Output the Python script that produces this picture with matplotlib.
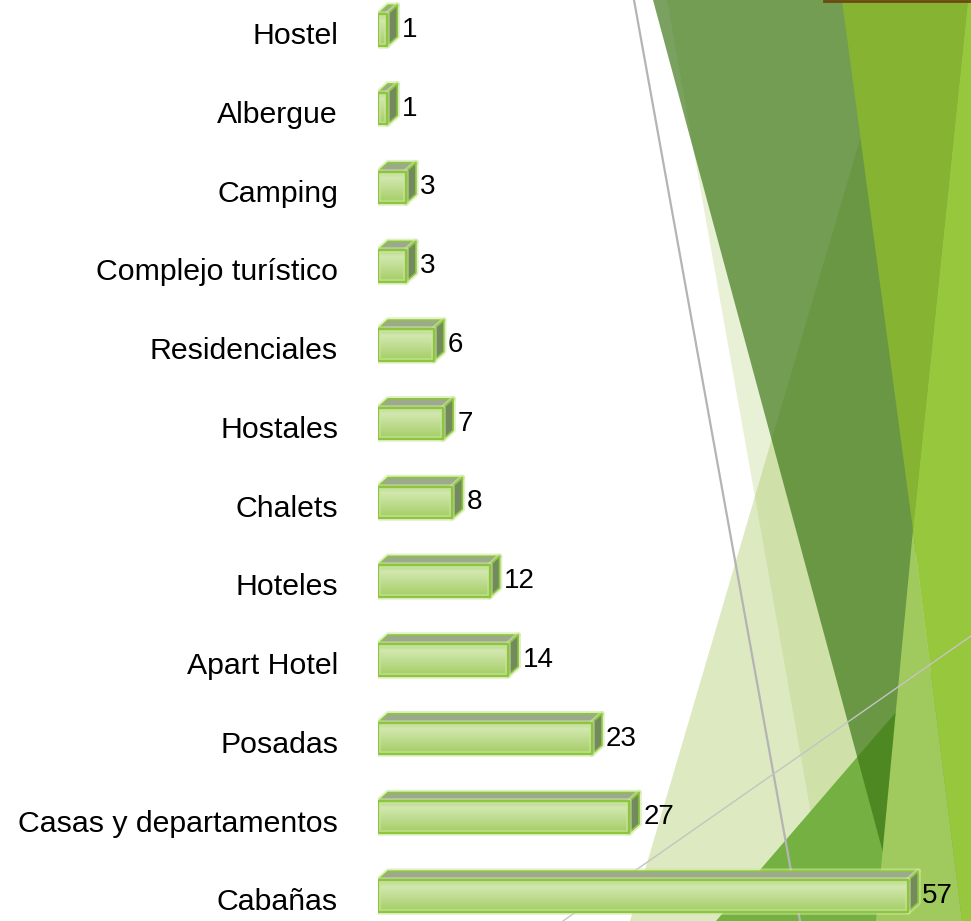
import numpy as np
import matplotlib
matplotlib.use("Agg")
import matplotlib.pyplot as plt
from matplotlib.patches import Polygon
import matplotlib.patheffects as pe
from matplotlib.colors import LinearSegmentedColormap

# data, bottom to top
categories = ["Cabañas", "Casas y departamentos", "Posadas", "Apart Hotel", "Hoteles",
              "Chalets", "Hostales", "Residenciales", "Complejo turístico", "Camping",
              "Albergue", "Hostel"]
values = [57, 27, 23, 14, 12, 8, 7, 6, 3, 3, 1, 1]

plt.rcParams['font.family'] = ['Liberation Sans', 'DejaVu Sans']

W, H = 971, 921
fig = plt.figure(figsize=(W / 100, H / 100), dpi=100)
fig.patch.set_facecolor('white')

# decorative background shapes (pixel coords)
bg = fig.add_axes([0, 0, 1, 1], zorder=0)
bg.set_xlim(0, W)
bg.set_ylim(H, 0)
bg.axis('off')

def shape(pts, color, alpha=1.0):
    bg.add_patch(Polygon(pts, closed=True, facecolor=color, edgecolor='none', alpha=alpha))

shape([(901, 0), (630, 921), (971, 921), (971, 0)], '#dde9c0')          # light triangle
shape([(667, 0), (830, 921), (971, 921), (971, 0)], '#aacc68', 0.27)    # pale strip
shape([(716, 921), (971, 625), (971, 921)], '#74b142')                  # green corner
shape([(653, 0), (971, 0), (885, 860)], '#3b7515', 0.68)                # muted dark
shape([(842, 0), (968, 0), (913, 530)], '#86b432')                      # olive wedge
shape([(913, 530), (962, 921), (876, 921)], '#a0c95e')                  # lower wedge
shape([(968, 0), (971, 0), (971, 921), (962, 921), (913, 530)], '#97c73d')
bg.plot([824, 971], [0.8, 0.8], color='#6b4a10', lw=2)
bg.plot([634, 800], [0, 921], color='#b4b4b4', lw=1.6)
bg.plot([563, 971], [921, 636], color='#c4c4c4', lw=1.0)

# main axes
px_per_unit = 9.3
left = 378
xmax = 63
ax = fig.add_axes([left / W, 0, xmax * px_per_unit / W, 1], zorder=1)
ax.patch.set_alpha(0)
ax.axis('off')
ylo, yhi = -0.318, 11.38
ax.set_xlim(0, xmax)
ax.set_ylim(ylo, yhi)

bar_h = 0.40
dx = 10 / px_per_unit
dy = 9 / (H / (yhi - ylo))
edge = '#8cc63f'
glow = [pe.Stroke(linewidth=4, foreground='#cfe79f', alpha=0.6, joinstyle='round'),
        pe.Normal()]

grad_cmap = LinearSegmentedColormap.from_list(
    'front', [(0, '#a2cd62'), (0.55, '#c4df98'), (0.8, '#d2e8b0'), (1, '#b6d784')])
grad = np.linspace(0, 1, 64).reshape(-1, 1)

for i, (cat, v) in enumerate(zip(categories, values)):
    y0 = i - bar_h / 2
    y1 = i + bar_h / 2
    # top face
    top = Polygon([(0, y1), (v, y1), (v + dx, y1 + dy), (dx, y1 + dy)], closed=True,
                  facecolor='#9ca98b', edgecolor=edge, lw=1.2, zorder=3, joinstyle='round')
    top.set_path_effects(glow)
    ax.add_patch(top)
    # side face
    side = Polygon([(v, y0), (v + dx, y0 + dy), (v + dx, y1 + dy), (v, y1)], closed=True,
                   facecolor='#738b5c', edgecolor=edge, lw=1.2, zorder=3, joinstyle='round')
    side.set_path_effects(glow)
    ax.add_patch(side)
    # front face with gradient
    front = ax.barh(i, v, height=bar_h, color='none', edgecolor=edge, lw=1.6, zorder=5)[0]
    front.set_joinstyle('round')
    front.set_path_effects(glow)
    img = ax.imshow(grad, cmap=grad_cmap, extent=(0, v, y0, y1), origin='lower',
                    aspect='auto', zorder=4, interpolation='bilinear')
    img.set_clip_path(front)
    # value label
    ax.text(v + dx + 0.45, i, str(v), ha='left', va='center', fontsize=20,
            color='black', zorder=6)
    # category label
    ax.text(-40 / (xmax * px_per_unit), i - 0.08, cat, ha='right', va='center',
            fontsize=21.8, color='black', transform=ax.get_yaxis_transform(), zorder=6)

ax.set_xlim(0, xmax)
ax.set_ylim(ylo, yhi)

fig.savefig('out.png', dpi=100, facecolor='white')
